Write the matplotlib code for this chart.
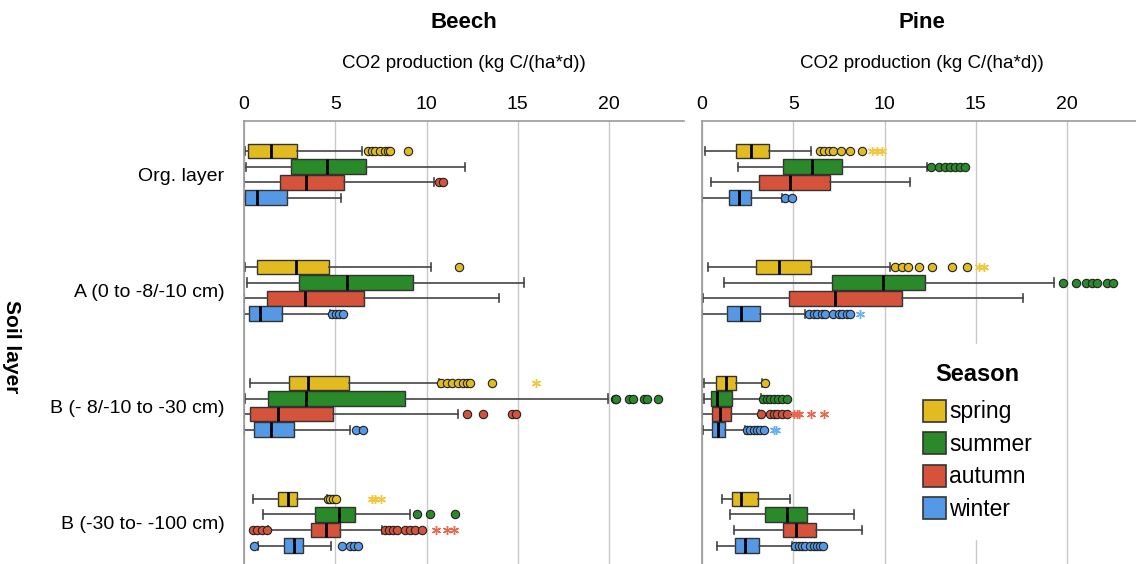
import matplotlib
matplotlib.use("Agg")
import matplotlib.pyplot as plt
from matplotlib.patches import Patch

plt.rcParams['font.family'] = ['Liberation Sans', 'DejaVu Sans']

# Ebenen und Jahreszeiten
layers = ["Org. layer", "A (0 to -8/-10 cm)", "B (- 8/-10 to -30 cm)", "B (-30 to- -100 cm)"]
seasons = ["spring", "summer", "autumn", "winter"]
colors = {"spring": "#E2BB20", "summer": "#2A8A2A", "autumn": "#D5533A", "winter": "#5599E6"}
star_colors = {"spring": "#F0C840", "summer": "#3FA03F", "autumn": "#E46A52", "winter": "#6FAEF2"}

# [whislo, q1, med, q3, whishi] je Ebene
beech_box = {
    "spring": [[0.04, 0.2, 1.5, 2.88, 6.44], [0.04, 0.73, 2.85, 4.67, 10.26],
               [0.31, 2.45, 3.49, 5.75, 10.7], [0.49, 1.88, 2.41, 2.92, 4.53]],
    "summer": [[0.13, 2.59, 4.56, 6.68, 12.1], [0.15, 3.01, 5.64, 9.23, 15.36],
               [0.07, 1.3, 3.39, 8.8, 19.95], [1.06, 3.9, 5.2, 6.08, 9.1]],
    "autumn": [[0.0, 1.97, 3.38, 5.46, 10.4], [0.0, 1.24, 3.36, 6.59, 13.94],
               [0.0, 0.33, 1.84, 4.87, 11.7], [1.33, 3.69, 4.47, 5.27, 7.54]],
    "winter": [[0.0, 0.07, 0.71, 2.35, 5.31], [0.0, 0.26, 0.89, 2.06, 4.7],
               [0.0, 0.57, 1.5, 2.72, 5.78], [0.78, 2.2, 2.76, 3.21, 4.74]],
}
beech_out = {
    "spring": [[6.8, 7.0, 7.2, 7.45, 7.7, 7.9, 8.0, 9.0], [11.8],
               [10.8, 11.1, 11.4, 11.7, 12.0, 12.2, 12.4, 13.6], [4.6, 4.7, 4.85, 5.04]],
    "summer": [[], [], [20.3, 20.4, 21.1, 21.3, 21.9, 22.1, 22.7], [9.45, 10.2, 11.57]],
    "autumn": [[10.7, 10.9], [], [12.2, 13.1, 14.7, 14.9],
               [0.51, 0.69, 0.97, 1.28, 7.72, 7.96, 8.18, 8.36, 8.81, 9.09, 9.36, 9.73]],
    "winter": [[], [4.8, 5.04, 5.2, 5.4], [6.13, 6.53], [0.55, 5.38, 5.8, 6.0, 6.26]],
}
beech_ext = {
    "spring": [[], [], [16.0], [7.0, 7.2, 7.5]],
    "summer": [[], [], [], []],
    "autumn": [[], [], [], [10.5, 11.1, 11.5]],
    "winter": [[], [], [], []],
}

pine_box = {
    "spring": [[0.16, 1.86, 2.7, 3.68, 5.96], [0.31, 2.95, 4.23, 5.95, 10.27],
               [0.09, 0.78, 1.33, 1.86, 3.28], [1.09, 1.64, 2.13, 3.05, 4.83]],
    "summer": [[1.95, 4.41, 6.02, 7.66, 12.32], [1.22, 7.11, 9.94, 12.19, 19.3],
               [0.13, 0.51, 0.82, 1.64, 3.23], [1.51, 3.47, 4.67, 5.76, 8.3]],
    "autumn": [[0.49, 3.1, 4.8, 7.0, 11.4], [0.03, 4.74, 7.26, 10.93, 17.6],
               [0.0, 0.53, 0.97, 1.59, 3.1], [1.75, 4.43, 5.14, 6.27, 8.79]],
    "winter": [[0.0, 1.46, 2.02, 2.68, 4.4], [0.0, 1.39, 2.13, 3.17, 5.65],
               [0.05, 0.53, 0.87, 1.27, 2.37], [0.82, 1.79, 2.37, 3.1, 4.93]],
}
pine_out = {
    "spring": [[6.48, 6.66, 6.93, 7.17, 7.63, 8.12, 8.76],
               [10.55, 10.95, 11.31, 11.88, 12.59, 13.68, 14.54], [3.45], []],
    "summer": [[12.53, 12.96, 13.32, 13.6, 13.87, 14.14, 14.42],
               [19.8, 20.47, 21.02, 21.35, 21.66, 22.17, 22.5],
               [3.34, 3.56, 3.74, 3.92, 4.14, 4.38, 4.65], []],
    "autumn": [[], [], [3.23, 3.74, 3.92, 4.1, 4.38, 4.65], []],
    "winter": [[4.56, 4.93], [5.84, 6.11, 6.29, 6.57, 6.75, 7.2, 7.48, 7.66, 7.93, 8.12],
               [2.46, 2.64, 2.83, 3.0, 3.19, 3.37],
               [5.11, 5.29, 5.47, 5.66, 5.93, 6.11, 6.29, 6.48, 6.62]],
}
pine_ext = {
    "spring": [[9.3, 9.57, 9.85], [15.15, 15.42], [], []],
    "summer": [[], [], [], []],
    "autumn": [[], [], [5.02, 5.2, 5.3, 5.96, 6.7], []],
    "winter": [[], [8.63], [3.92, 4.07], []],
}

W, H = 1136, 564
fig = plt.figure(figsize=(W / 100, H / 100), dpi=100)


def px_box(left, top, right, bottom):
    return [left / W, 1 - bottom / H, (right - left) / W, (bottom - top) / H]


ax_b = fig.add_axes(px_box(244, 121, 684, 564))
ax_p = fig.add_axes(px_box(702, 121, 1142, 564))

step = 0.134
box_h = 0.128


def draw_panel(ax, box, out, ext, title):
    for i, s in enumerate(seasons):
        pos = [g + (i - 1.5) * step for g in range(len(layers))]
        stats = []
        for k, (lo, q1, med, q3, hi) in enumerate(box[s]):
            stats.append(dict(whislo=lo, q1=q1, med=med, q3=q3, whishi=hi, fliers=out[s][k]))
        ax.bxp(stats, positions=pos, widths=box_h, orientation='horizontal',
               patch_artist=True, showfliers=True, capwidths=0.07,
               boxprops=dict(facecolor=colors[s], edgecolor='#333333', linewidth=1.0),
               medianprops=dict(color='black', linewidth=2.0),
               whiskerprops=dict(color='#444444', linewidth=1.2),
               capprops=dict(color='#444444', linewidth=1.2),
               flierprops=dict(marker='o', markerfacecolor=colors[s], markeredgecolor='#222222',
                               markersize=6, markeredgewidth=0.8, linestyle='none'))
        for k, vals in enumerate(ext[s]):
            if vals:
                ax.plot(vals, [pos[k]] * len(vals), linestyle='none', marker=(6, 2, 0),
                        markersize=6.5, markeredgewidth=1.0, color=star_colors[s])

    ax.set_xlim(0, 24.1)
    ax.set_ylim(3.36, -0.46)
    ax.set_xticks([0, 5, 10, 15, 20])
    ax.xaxis.tick_top()
    ax.xaxis.set_label_position('top')
    ax.tick_params(axis='x', length=0, pad=6, labelsize=14, colors='black')
    ax.set_xlabel("CO2 production (kg C/(ha*d))", fontsize=13.5, labelpad=20)
    ax.set_title(title, fontsize=16, fontweight='bold', pad=19)
    ax.grid(axis='x', color='#c8c8c8', linewidth=1.0, zorder=0)
    ax.set_axisbelow(True)
    for side in ('right', 'bottom'):
        ax.spines[side].set_visible(False)
    for side in ('top', 'left'):
        ax.spines[side].set_color('#9a9a9a')
        ax.spines[side].set_linewidth(1.2)


draw_panel(ax_b, beech_box, beech_out, beech_ext, "Beech")
draw_panel(ax_p, pine_box, pine_out, pine_ext, "Pine")

ax_b.set_yticks(range(len(layers)))
ax_b.set_yticklabels(layers)
ax_b.tick_params(axis='y', length=0, pad=14, labelsize=14)
ax_p.set_yticks([])

fig.text(11 / W, 1 - 347 / H, "Soil layer", rotation=-90, fontsize=15, fontweight='bold',
         ha='center', va='center')

handles = [Patch(facecolor=colors[s], edgecolor='#333333', linewidth=1.2, label=s) for s in seasons]
leg = ax_p.legend(handles=handles, title="Season", loc='upper left',
                  bbox_to_anchor=(893 / W, 1 - 333 / H), bbox_transform=fig.transFigure,
                  fontsize=16.5, title_fontproperties=dict(size=17, weight='bold'),
                  handlelength=1.0, handleheight=1.1, handletextpad=0.15,
                  labelspacing=0.38, borderpad=0.8, frameon=True, fancybox=False,
                  framealpha=1.0, facecolor='white', edgecolor='white')
leg._legend_box.sep = 10

fig.savefig("out.png", dpi=100)
